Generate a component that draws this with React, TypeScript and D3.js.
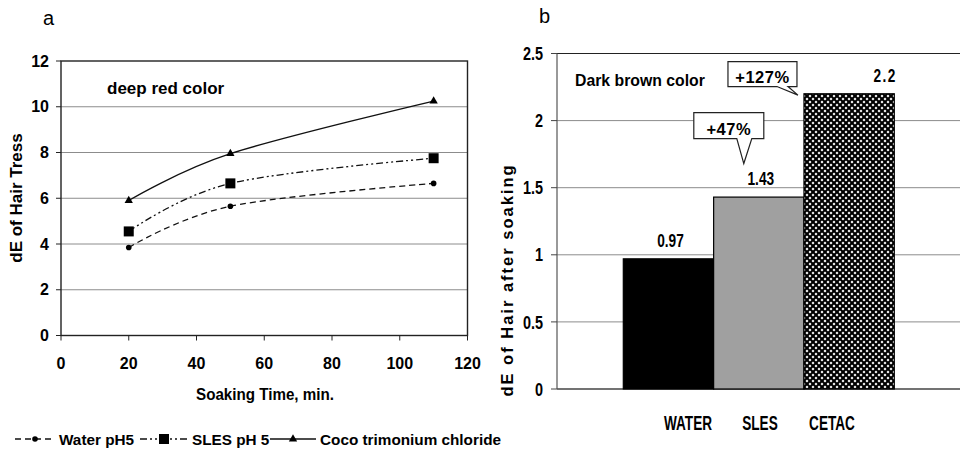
import React from "react";
import * as d3 from "d3";

// Panel a: dE of hair tress vs soaking time
const soakTimes = [20, 50, 110];
const waterValues = [3.85, 5.65, 6.65];
const slesValues = [4.55, 6.65, 7.75];
const cocoValues = [5.9, 7.95, 10.25];
const xTicksA = [0, 20, 40, 60, 80, 100, 120];
const yTicksA = [0, 2, 4, 6, 8, 10, 12];

// Panel b: dE after soaking, dark brown color
const treatments = ["WATER", "SLES", "CETAC"];
const treatmentValues = [0.97, 1.43, 2.2];
const yTicksB = [0, 0.5, 1, 1.5, 2, 2.5];
const calloutTexts = ["+47%", "+127%"];

const FONT = "'Liberation Sans', Arial, Helvetica, sans-serif";

export default function App() {
  const W = 960;
  const H = 449;

  // ---- panel a scales
  const xA = d3.scaleLinear().domain([0, 120]).range([61, 467.5]);
  const yA = d3.scaleLinear().domain([0, 12]).range([335.5, 61]);
  const curve = d3.curveCardinal.tension(0);
  const lineA = (vals: number[]) =>
    d3
      .line<number>()
      .x((_, i) => xA(soakTimes[i]))
      .y((v) => yA(v))
      .curve(curve)(vals) as string;

  const series = [
    { name: "Water pH5", values: waterValues, dash: "6,4", marker: "circle" },
    { name: "SLES pH 5", values: slesValues, dash: "7,3,2,3,2,3", marker: "square" },
    { name: "Coco trimonium chloride", values: cocoValues, dash: "", marker: "triangle" },
  ];

  const marker = (kind: string, cx: number, cy: number, key: string) => {
    if (kind === "circle") return <circle key={key} cx={cx} cy={cy} r={2.8} fill="#000" />;
    if (kind === "square")
      return <rect key={key} x={cx - 5} y={cy - 5} width={10} height={10} fill="#000" />;
    const s = d3.symbol().type(d3.symbolTriangle).size(30)() as string;
    return <path key={key} d={s} transform={`translate(${cx},${cy})`} fill="#000" />;
  };

  // ---- panel b scales
  const yB = d3.scaleLinear().domain([0, 2.5]).range([389, 53.5]);
  const plotLeftB = 557;
  const plotRightB = 960;
  const xB = d3.scaleBand<string>().domain(treatments).range([623.3, 894.3]).padding(0);
  const xLabelB = d3.scalePoint<string>().domain(treatments).range([688, 832]);
  const bw = xB.bandwidth();
  const fills = ["#000", "#a0a0a0", "url(#hatch)"];

  // callout anchors near the SLES and CETAC bars
  const slesX = (xB("SLES") as number) + bw / 2;
  const cetacX = xB("CETAC") as number;
  const callouts = [
    { text: calloutTexts[0], bx: slesX - 65, by: yB(2.06), w: 70, h: 26, tipX: slesX - 15, tipY: yB(1.68), p0: 43, p1: 58 },
    { text: calloutTexts[1], bx: cetacX - 76, by: yB(2.44), w: 69, h: 25, tipX: cetacX - 6, tipY: yB(2.19), p0: 49, p1: 60 },
  ];

  return (
    <svg width={W} height={H} style={{ display: "block", position: "absolute", left: 0, top: 0 }}>
      <defs>
        <pattern id="hatch" width={6} height={6} patternUnits="userSpaceOnUse">
          <rect width={6} height={6} fill="#000" />
          <path d="M3,1.5 L4.5,3 L3,4.5 L1.5,3 Z" fill="#fff" />
          <path d="M0,-1.5 L1.5,0 L0,1.5 L-1.5,0 Z M6,-1.5 L7.5,0 L6,1.5 L4.5,0 Z M0,4.5 L1.5,6 L0,7.5 L-1.5,6 Z M6,4.5 L7.5,6 L6,7.5 L4.5,6 Z" fill="#fff" />
        </pattern>
      </defs>
      <rect width={W} height={H} fill="#fff" />

      {/* ================= panel a ================= */}
      <text x={43} y={25} fontFamily={FONT} fontSize={20} fill="#000">a</text>
      {yTicksA.slice(1, -1).map((t) => (
        <line key={t} x1={61} x2={467.5} y1={yA(t)} y2={yA(t)} stroke="#8c8c8c" strokeWidth={1} />
      ))}
      <rect x={61} y={61} width={467.5 - 61} height={335.5 - 61} fill="none" stroke="#222" strokeWidth={1.4} />
      {yTicksA.map((t) => (
        <g key={t}>
          <line x1={56} x2={61} y1={yA(t)} y2={yA(t)} stroke="#222" />
          <text x={49} y={yA(t)} dy="0.35em" textAnchor="end" fontFamily={FONT} fontWeight="bold" fontSize={16}>{t}</text>
        </g>
      ))}
      {xTicksA.map((t) => (
        <g key={t}>
          <line x1={xA(t)} x2={xA(t)} y1={335.5} y2={340.5} stroke="#222" />
          <text x={xA(t)} y={368.5} textAnchor="middle" fontFamily={FONT} fontWeight="bold" fontSize={16}>{t}</text>
        </g>
      ))}
      <text transform="translate(265,400) scale(0.92,1)" textAnchor="middle" fontFamily={FONT} fontWeight="bold" fontSize={16.5}>Soaking Time, min.</text>
      <text transform={`translate(22,198) rotate(-90)`} textAnchor="middle" fontFamily={FONT} fontWeight="bold" fontSize={17}>dE of Hair Tress</text>
      <text x={107} y={94} fontFamily={FONT} fontWeight="bold" fontSize={17}>deep red color</text>

      {series.map((s) => (
        <g key={s.name}>
          <path d={lineA(s.values)} fill="none" stroke="#111" strokeWidth={1.3} strokeDasharray={s.dash || undefined} />
          {s.values.map((v, i) => marker(s.marker, xA(soakTimes[i]), yA(v), `${s.name}-${i}`))}
        </g>
      ))}

      {/* legend */}
      {series.map((s, i) => {
        const starts = [15, 140, 270];
        const x0 = starts[i];
        const len = i === 1 ? 48 : i === 0 ? 40 : 46;
        return (
          <g key={s.name}>
            <line x1={x0} x2={x0 + len} y1={439} y2={439} stroke="#111" strokeWidth={1.3} strokeDasharray={s.dash || undefined} />
            {marker(s.marker, x0 + len / 2, 439, `lg-${i}`)}
            <text x={x0 + len + 4} y={439} dy="0.36em" fontFamily={FONT} fontWeight="bold" fontSize={15.3}>{s.name}</text>
          </g>
        );
      })}

      {/* ================= panel b ================= */}
      <text x={539} y={23} fontFamily={FONT} fontSize={20} fill="#000">b</text>
      {yTicksB.slice(1, -1).map((t) => (
        <line key={t} x1={plotLeftB} x2={plotRightB} y1={yB(t)} y2={yB(t)} stroke="#8c8c8c" strokeWidth={1} />
      ))}
      <line x1={plotLeftB} x2={plotRightB} y1={yB(2.5)} y2={yB(2.5)} stroke="#222" strokeWidth={1.2} />
      <line x1={plotLeftB} x2={plotRightB} y1={yB(0)} y2={yB(0)} stroke="#444" strokeWidth={1.4} />
      <line x1={plotLeftB} x2={plotLeftB} y1={yB(2.5)} y2={yB(0)} stroke="#555" strokeWidth={1.2} />
      {yTicksB.map((t) => (
        <g key={t}>
          <line x1={551} x2={plotLeftB} y1={yB(t)} y2={yB(t)} stroke="#444" />
          <text transform={`translate(543,${yB(t)}) scale(0.78,1)`} dy="0.36em" textAnchor="end" fontFamily={FONT} fontWeight="bold" fontSize={18.5}>{t}</text>
        </g>
      ))}
      <text transform={`translate(513,280) rotate(-90)`} textAnchor="middle" fontFamily={FONT} fontWeight="bold" fontSize={16.5} letterSpacing={2}>dE of Hair after soaking</text>
      <text x={575} y={86} fontFamily={FONT} fontWeight="bold" fontSize={15.8}>Dark brown color</text>

      {treatments.map((c, i) => (
        <g key={c}>
          <rect x={xB(c)} y={yB(treatmentValues[i])} width={bw} height={yB(0) - yB(treatmentValues[i])} fill={fills[i]} stroke="#000" strokeWidth={1.2} />
          <text transform={`translate(${(xB(c) as number) + bw / 2 + (i === 2 ? 36 : 2)},${yB(treatmentValues[i]) - 12}) scale(0.72,1)`} textAnchor="middle" fontFamily={FONT} fontWeight="bold" fontSize={19} letterSpacing={i === 2 ? 2 : 0}>{treatmentValues[i]}</text>
          <text transform={`translate(${xLabelB(c)},430) scale(0.68,1)`} textAnchor="middle" fontFamily={FONT} fontWeight="bold" fontSize={20}>{c}</text>
        </g>
      ))}

      {callouts.map((c) => (
        <g key={c.text}>
          <path
            d={`M${c.bx},${c.by} H${c.bx + c.w} V${c.by + c.h} H${c.bx + c.p1} L${c.tipX},${c.tipY} L${c.bx + c.p0},${c.by + c.h} H${c.bx} Z`}
            fill="#fff"
            stroke="#222"
            strokeWidth={1.2}
          />
          <text x={c.bx + c.w / 2} y={c.by + c.h - 4} textAnchor="middle" fontFamily={FONT} fontWeight="bold" fontSize={16.5} letterSpacing={0.5}>{c.text}</text>
        </g>
      ))}
    </svg>
  );
}
